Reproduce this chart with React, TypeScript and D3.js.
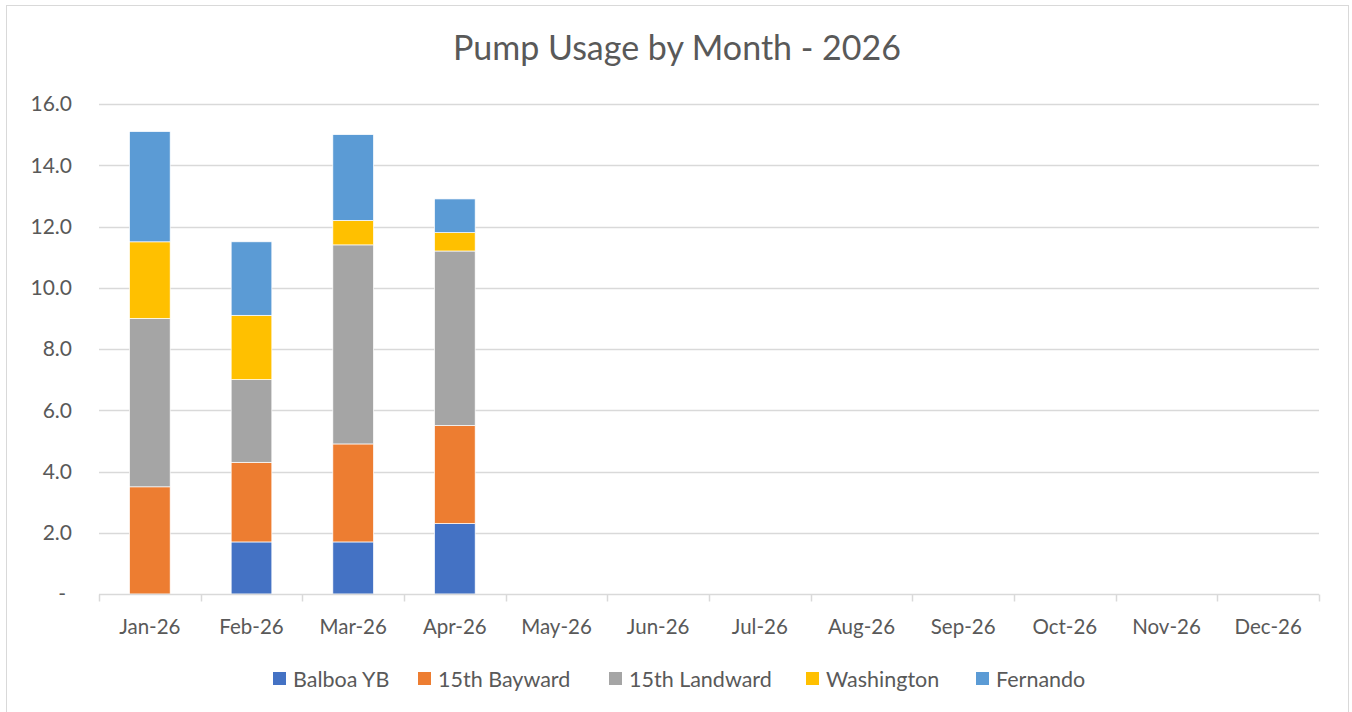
import React, { useEffect, useRef } from "react";
import * as d3 from "d3";

// months on the x axis
const months = [
  "Jan-26", "Feb-26", "Mar-26", "Apr-26", "May-26", "Jun-26",
  "Jul-26", "Aug-26", "Sep-26", "Oct-26", "Nov-26", "Dec-26",
];

// series names, stacked bottom to top
const seriesNames = ["Balboa YB", "15th Bayward", "15th Landward", "Washington", "Fernando"];
const seriesColors = ["#4472C4", "#ED7D31", "#A5A5A5", "#FFC000", "#5B9BD5"];

// values per series (only Jan-Apr have data)
const balboaYB = [0, 1.7, 1.7, 2.3];
const bayward15th = [3.5, 2.6, 3.2, 3.2];
const landward15th = [5.5, 2.7, 6.5, 5.7];
const washington = [2.5, 2.1, 0.8, 0.6];
const fernando = [3.6, 2.4, 2.8, 1.1];

const yTicks = [0, 2, 4, 6, 8, 10, 12, 14, 16];

const W = 1352;
const H = 712;

const App = () => {
  const svgRef = useRef<SVGSVGElement>(null);

  useEffect(() => {
    document.body.style.margin = "0";
    const svg = d3.select(svgRef.current);
    svg.selectAll("*").remove();

    const font = "Lato, 'Open Sans', sans-serif";
    const textColor = "#595959";
    const margin = { top: 104, right: 33, bottom: 118, left: 99 };

    //chart area border
    svg.append("rect")
      .attr("x", 6.5).attr("y", 5.5)
      .attr("width", 1342).attr("height", 730)
      .attr("fill", "#fff")
      .attr("stroke", "#D9D9D9");

    //building rows for stacking
    const allSeries = [balboaYB, bayward15th, landward15th, washington, fernando];
    const rows = months.map((m, i) => {
      const row: any = { month: m };
      seriesNames.forEach((s, j) => (row[s] = allSeries[j][i] ?? 0));
      return row;
    });
    const stacked = d3.stack().keys(seriesNames)(rows);

    const x = d3.scaleBand()
      .domain(months)
      .range([margin.left, W - margin.right])
      .paddingInner(0.6)
      .paddingOuter(0.3);

    const y = d3.scaleLinear()
      .domain([0, 16])
      .range([H - margin.bottom, margin.top]);

    //gridlines
    svg.append("g")
      .selectAll("line")
      .data(yTicks.slice(1))
      .enter()
      .append("line")
      .attr("x1", margin.left)
      .attr("x2", W - margin.right)
      .attr("y1", (d) => Math.round(y(d)) + 0.5)
      .attr("y2", (d) => Math.round(y(d)) + 0.5)
      .attr("stroke", "#D9D9D9")
      .attr("stroke-width", 1.5);

    //y tick labels
    svg.append("g")
      .selectAll("text")
      .data(yTicks)
      .enter()
      .append("text")
      .attr("x", (d) => (d === 0 ? 66 : 72))
      .attr("y", (d) => y(d))
      .attr("dy", "0.35em")
      .attr("text-anchor", "end")
      .attr("fill", textColor)
      .style("font-family", font)
      .style("font-size", "21px")
      .text((d) => (d === 0 ? "-" : d3.format(".1f")(d)));

    //bars
    svg.append("g")
      .selectAll("g")
      .data(stacked)
      .enter()
      .append("g")
      .attr("fill", (_, i) => seriesColors[i])
      .selectAll("rect")
      .data((d) => d)
      .enter()
      .filter((d) => d[1] - d[0] > 0)
      .append("rect")
      .attr("x", (d: any) => x(d.data.month)!)
      .attr("width", x.bandwidth())
      .attr("y", (d) => y(d[1]))
      .attr("height", (d) => y(d[0]) - y(d[1]))
      .attr("stroke", "#fff")
      .attr("stroke-width", 0.7);

    //x axis baseline and ticks
    const baseY = Math.round(y(0)) + 0.5;
    svg.append("line")
      .attr("x1", margin.left).attr("x2", W - margin.right)
      .attr("y1", baseY).attr("y2", baseY)
      .attr("stroke", "#D9D9D9").attr("stroke-width", 1.5);

    const edges = d3.range(months.length + 1).map((i) => margin.left + i * (W - margin.left - margin.right) / months.length);
    svg.append("g")
      .selectAll("line")
      .data(edges)
      .enter()
      .append("line")
      .attr("x1", (d) => Math.round(d) + 0.5)
      .attr("x2", (d) => Math.round(d) + 0.5)
      .attr("y1", baseY)
      .attr("y2", baseY + 7)
      .attr("stroke", "#D9D9D9")
      .attr("stroke-width", 1.5);

    //x labels
    svg.append("g")
      .selectAll("text")
      .data(months)
      .enter()
      .append("text")
      .attr("x", (d) => x(d)! + x.bandwidth() / 2)
      .attr("y", 634)
      .attr("text-anchor", "middle")
      .attr("fill", textColor)
      .style("font-family", font)
      .style("font-size", "20.5px")
      .text((d) => d);

    //title
    svg.append("text")
      .attr("x", 677)
      .attr("y", 60)
      .attr("text-anchor", "middle")
      .attr("fill", textColor)
      .style("font-family", font)
      .style("font-size", "34px")
      .text("Pump Usage by Month - 2026");

    //legend
    const legendX = [273, 418, 609, 806, 976];
    const lg = svg.append("g")
      .selectAll("g")
      .data(seriesNames)
      .enter()
      .append("g")
      .attr("transform", (_, i) => `translate(${legendX[i]}, 672)`);
    lg.append("rect")
      .attr("width", 13).attr("height", 13)
      .attr("fill", (_, i) => seriesColors[i]);
    lg.append("text")
      .attr("x", 20)
      .attr("y", 7)
      .attr("dy", "0.35em")
      .attr("fill", textColor)
      .style("font-family", font)
      .style("font-size", "21.5px")
      .text((d) => d);
  }, []);

  return <svg ref={svgRef} width={W} height={H} style={{ display: "block" }} />;
};

export default App;
